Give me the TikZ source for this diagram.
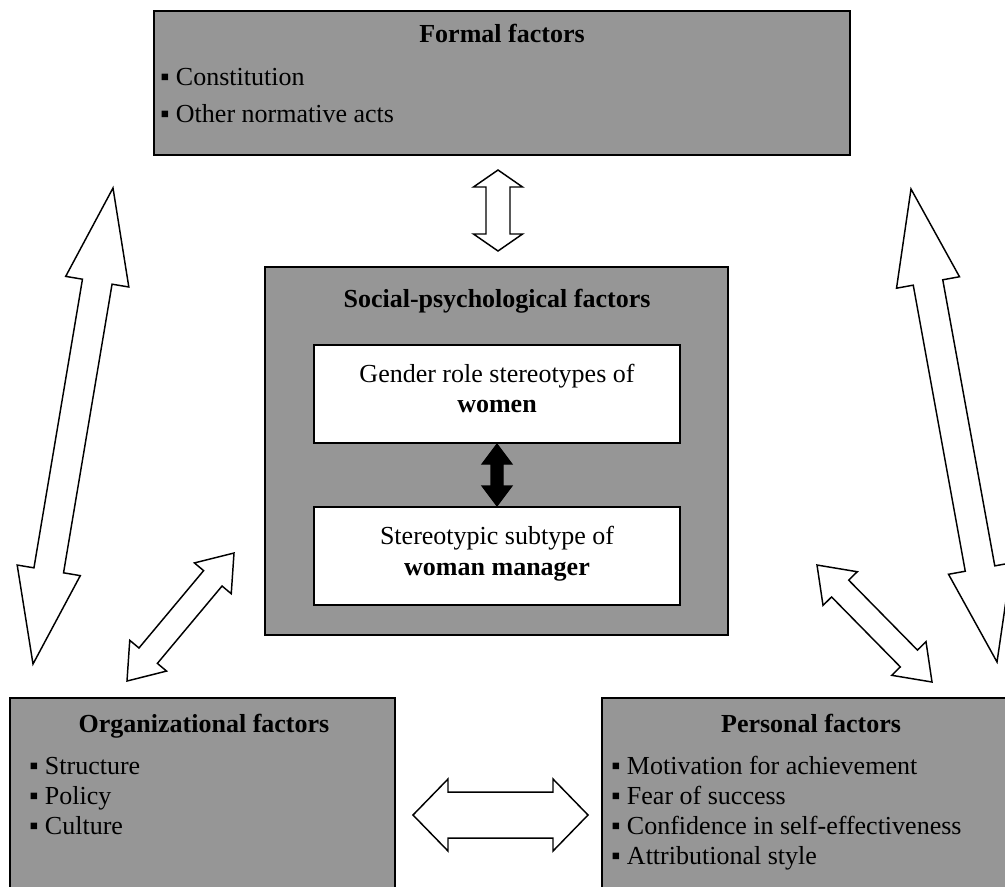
\documentclass[tikz,border=0pt]{standalone}
\usepackage{fontspec}
\setmainfont{Liberation Serif}
\usetikzlibrary{calc}
\definecolor{boxgray}{RGB}{150,150,150}
\tikzset{
  box/.style={draw=black, line width=1.5pt, fill=boxgray, anchor=north west, inner sep=0pt, outer sep=0pt},
  inbox/.style={draw=black, line width=1.2pt, fill=white, anchor=north west, inner sep=0pt, outer sep=0pt},
  txt/.style={anchor=base, inner sep=0pt, font=\fontsize{19.5pt}{22pt}\selectfont},
  ttl/.style={anchor=base, inner sep=0pt, font=\fontsize{19.5pt}{22pt}\selectfont\bfseries},
  itm/.style={anchor=base west, inner sep=0pt, font=\fontsize{19.5pt}{22pt}\selectfont},
  hollow/.style={draw=black, line width=1.1pt, fill=white, line join=miter},
  blackarrow/.style={draw=black, line width=0.8pt, fill=black, line join=miter}
}
% #1 style, #2 tip A, #3 tip B, #4 head length, #5 head half width, #6 shaft half width
\newcommand\dblarrow[6]{%
  \coordinate (da1) at ($(#2)!#4!(#3)$);
  \coordinate (da2) at ($(#3)!#4!(#2)$);
  \draw[#1] (#2) -- ($(da1)!#5!90:(#3)$) -- ($(da1)!#6!90:(#3)$)
    -- ($(da2)!#6!-90:(#2)$) -- ($(da2)!#5!-90:(#2)$) -- (#3)
    -- ($(da2)!#5!90:(#2)$) -- ($(da2)!#6!90:(#2)$)
    -- ($(da1)!#6!-90:(#3)$) -- ($(da1)!#5!-90:(#3)$) -- cycle;}
\begin{document}
\begin{tikzpicture}[x=0.75pt,y=-0.75pt]
\useasboundingbox (0,0) rectangle (1005,886);
\clip (0,0) rectangle (1005,886);
\fill[white] (0,0) rectangle (1005,886);

% boxes
\node[box, minimum width=522pt, minimum height=108pt] (formal) at (154,11) {};
\node[box, minimum width=347.25pt, minimum height=276pt] (social) at (265,267) {};
\node[inbox, minimum width=274.5pt, minimum height=73.5pt] (gender) at (314,345) {};
\node[inbox, minimum width=274.5pt, minimum height=73.5pt] (subtype) at (314,507) {};
\node[box, minimum width=288.75pt, minimum height=160pt] (org) at (10,698) {};
\node[box, minimum width=313.5pt, minimum height=160pt] (pers) at (602,698) {};

% texts
\node[ttl] (formalT) at (502,42) {Formal factors};
\node[itm] (formal1) at (160,85) {▪ Constitution};
\node[itm] (formal2) at (160,122) {▪ Other normative acts};

\node[ttl] (socialT) at (497,307) {Social-psychological factors};
\node[txt] (gender1) at (497,382) {Gender role stereotypes of};
\node[ttl] (gender2) at (497,412) {women};
\node[txt] (subtype1) at (497,544) {Stereotypic subtype of};
\node[ttl] (subtype2) at (497,575) {woman manager};

\node[ttl] (orgT) at (204,732) {Organizational factors};
\node[itm] (org1) at (29,774) {▪ Structure};
\node[itm] (org2) at (29,804) {▪ Policy};
\node[itm] (org3) at (29,834) {▪ Culture};

\node[ttl] (persT) at (811,732) {Personal factors};
\node[itm] (pers1) at (611,774) {▪ Motivation for achievement};
\node[itm] (pers2) at (611,804) {▪ Fear of success};
\node[itm] (pers3) at (611,834) {▪ Confidence in self-effectiveness};
\node[itm] (pers4) at (611,864) {▪ Attributional style};

% arrow end points
\coordinate (vA) at (498,170);  \coordinate (vB) at (498,251);
\coordinate (hA) at (413,815);  \coordinate (hB) at (588,815);
\coordinate (lA) at (113,188);  \coordinate (lB) at (33,664);
\coordinate (rA) at (911,189);  \coordinate (rB) at (997,662);
\coordinate (ldA) at (234,553); \coordinate (ldB) at (127,681);
\coordinate (rdA) at (817,565); \coordinate (rdB) at (932,682);
\coordinate (bA) at (497,444);  \coordinate (bB) at (497,506);

\dblarrow{hollow}{vA}{vB}{12.75pt}{18.4pt}{9pt}
\dblarrow{hollow}{hA}{hB}{26.25pt}{27pt}{17.25pt}
\dblarrow{hollow}{lA}{lB}{71.25pt}{24pt}{11.25pt}
\dblarrow{hollow}{rA}{rB}{71.25pt}{24pt}{11.25pt}
\dblarrow{hollow}{ldA}{ldB}{24.75pt}{18pt}{9pt}
\dblarrow{hollow}{rdA}{rdB}{24.75pt}{18pt}{9pt}
\dblarrow{blackarrow}{bA}{bB}{15pt}{11.25pt}{4.5pt}
\end{tikzpicture}
\end{document}
